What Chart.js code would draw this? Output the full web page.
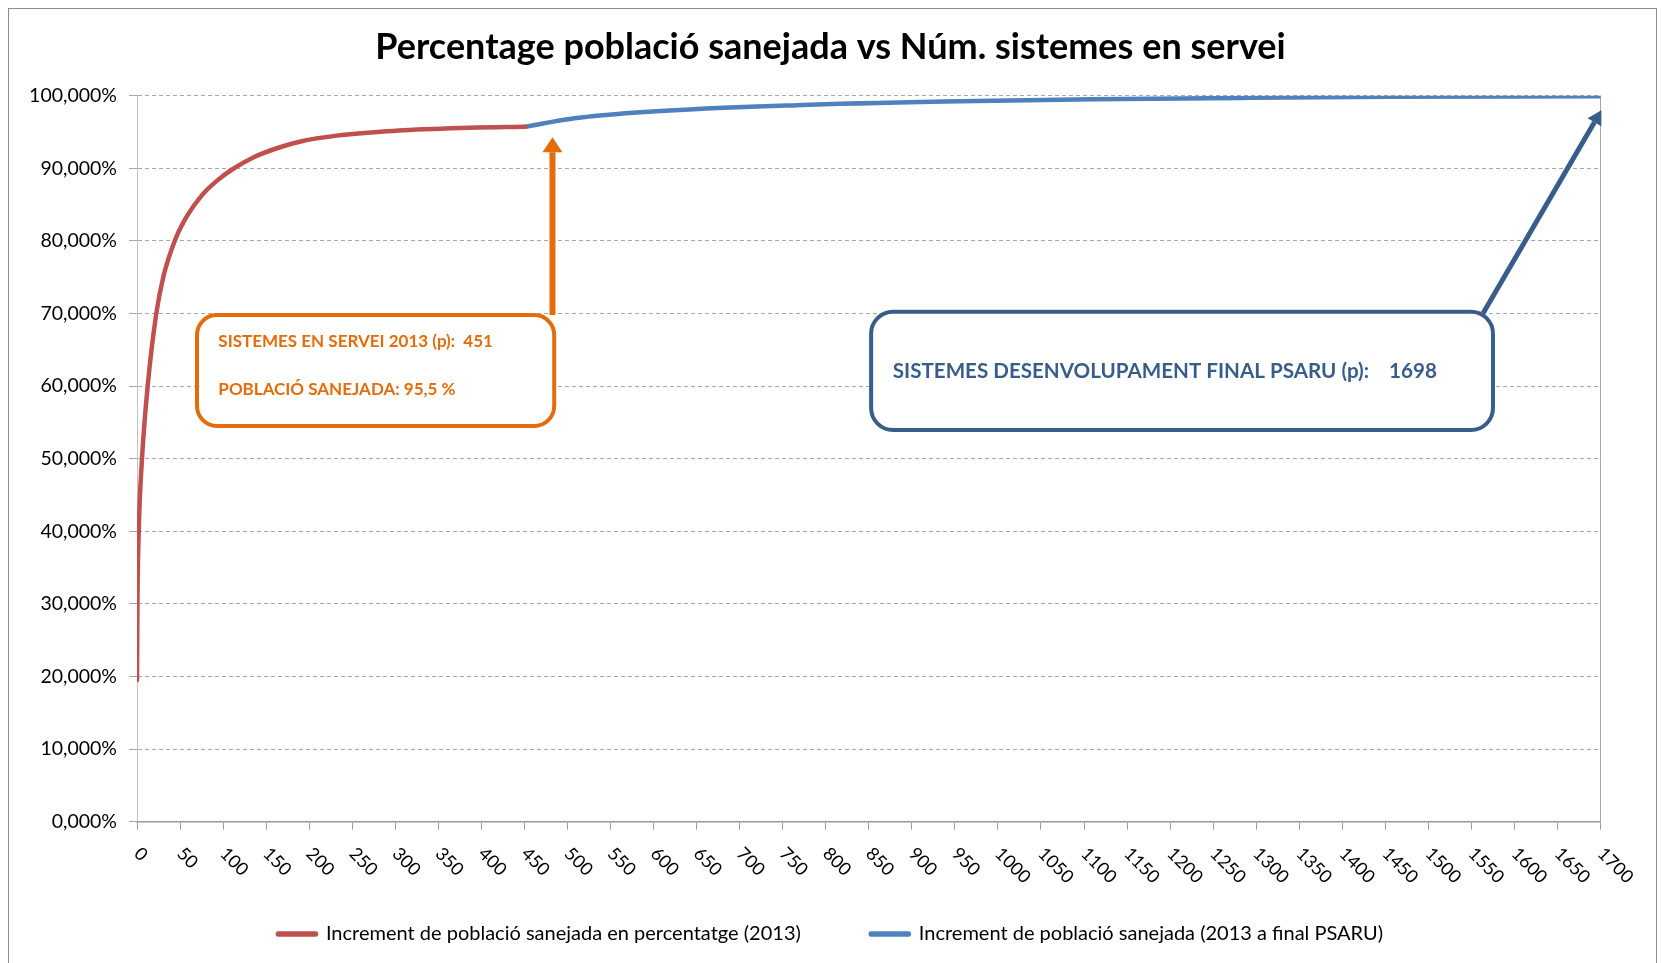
<!DOCTYPE html>
<html>
<head>
<meta charset="utf-8">
<title>Percentage població sanejada</title>
<script src="https://cdn.jsdelivr.net/npm/chart.js@4.4.1/dist/chart.umd.min.js"></script>
<style>
  html, body { margin: 0; padding: 0; background: #fff; }
</style>
</head>
<body>
<canvas id="sanejadaChart" width="1661" height="963"></canvas>
<script>
const titol = 'Percentage població sanejada vs Núm. sistemes en servei';
const seriesNoms = [
    'Increment de població sanejada en percentatge (2013)',
    'Increment de població sanejada (2013 a final PSARU)'
];

// corba 2013 (sistemes en servei -> % població sanejada)
const sistemes2013 = [0, 0.5, 2, 5.8, 12.4, 22.4, 30.9, 44.5, 58, 75.5, 93, 110, 135, 166, 190, 232, 280, 309, 387, 451];
const poblacio2013 = [19.5, 30, 40, 50, 60, 70, 75.2, 80.2, 83.4, 86.3, 88.3, 89.8, 91.5, 92.9, 93.7, 94.5, 95.0, 95.25, 95.6, 95.73];

// corba 2013 -> final PSARU
const sistemesPsaru = [451, 508, 594, 766, 938, 1110, 1282, 1454, 1698];
const poblacioPsaru = [95.73, 96.9, 97.8, 98.7, 99.2, 99.5, 99.7, 99.85, 99.92];

const xMax = 1700, xPas = 50;
const yMax = 100, yPas = 10;

const textTaronja = ['SISTEMES EN SERVEI 2013 (p):  451', 'POBLACIÓ SANEJADA: 95,5 %'];
const textBlau = 'SISTEMES DESENVOLUPAMENT FINAL PSARU (p):    1698';

const toPoints = (xs, ys) => xs.map((x, i) => ({ x: x, y: ys[i] }));

const ORANGE = '#E46C0A';
const DARKBLUE = '#385D8A';

function arrow(ctx, x1, y1, x2, y2, color, width, headLen, headHalf) {
    const a = Math.atan2(y2 - y1, x2 - x1);
    const bx = x2 - Math.cos(a) * headLen, by = y2 - Math.sin(a) * headLen;
    ctx.strokeStyle = color;
    ctx.fillStyle = color;
    ctx.lineWidth = width;
    ctx.lineCap = 'butt';
    ctx.beginPath();
    ctx.moveTo(x1, y1);
    ctx.lineTo(bx, by);
    ctx.stroke();
    ctx.beginPath();
    ctx.moveTo(x2, y2);
    ctx.lineTo(bx + Math.sin(a) * headHalf, by - Math.cos(a) * headHalf);
    ctx.lineTo(bx - Math.sin(a) * headHalf, by + Math.cos(a) * headHalf);
    ctx.closePath();
    ctx.fill();
}

const fonsIVora = {
    id: 'fonsIVora',
    beforeDraw(chart) {
        const c = chart.ctx;
        c.save();
        c.fillStyle = '#fff';
        c.fillRect(0, 0, chart.width, chart.height);
        c.strokeStyle = '#8c8c8c';
        c.lineWidth = 1;
        c.strokeRect(8.5, 8.5, 1648, 980);
        c.restore();
    }
};

// etiquetes de l'eix X girades 45 graus cap avall
const etiquetesX = {
    id: 'etiquetesX',
    afterDraw(chart) {
        const xs = chart.scales.x;
        const c = chart.ctx;
        c.save();
        c.font = '18px Lato';
        c.fillStyle = '#000';
        c.textAlign = 'left';
        c.textBaseline = 'middle';
        xs.ticks.forEach(t => {
            c.save();
            c.translate(xs.getPixelForValue(t.value), xs.top + 29);
            c.rotate(Math.PI / 4);
            c.fillText(String(t.value), 0, 0);
            c.restore();
        });
        c.restore();
    }
};

const anotacions = {
    id: 'anotacions',
    afterDatasetsDraw(chart) {
        const c = chart.ctx;
        const X = v => chart.scales.x.getPixelForValue(v);
        const Y = v => chart.scales.y.getPixelForValue(v);
        c.save();

        // caixa taronja
        arrow(c, X(482.6), Y(69.8), X(482.6), Y(94.27), ORANGE, 6, 15, 10);
        c.beginPath();
        c.roundRect(X(69.7), Y(69.8), X(484.6) - X(69.7), Y(54.5) - Y(69.8), 20);
        c.fillStyle = '#fff';
        c.fill();
        c.strokeStyle = ORANGE;
        c.lineWidth = 4;
        c.stroke();
        c.fillStyle = ORANGE;
        c.font = 'bold 17px Lato';
        c.textBaseline = 'middle';
        c.fillText(textTaronja[0], X(94.5), Y(66.2));
        c.fillText(textTaronja[1], X(94.5), Y(59.56));

        // caixa blava
        arrow(c, X(1563.5), Y(70.05), X(1701), Y(98.0), DARKBLUE, 5, 14, 8);
        c.beginPath();
        c.roundRect(X(852.7), Y(70.25), X(1575) - X(852.7), Y(53.95) - Y(70.25), 22);
        c.fillStyle = '#fff';
        c.fill();
        c.strokeStyle = DARKBLUE;
        c.lineWidth = 4;
        c.stroke();
        c.fillStyle = DARKBLUE;
        c.font = 'bold 20.6px Lato';
        c.fillText(textBlau, X(877.8), Y(62));
        c.restore();
    }
};

const ctx = document.getElementById('sanejadaChart').getContext('2d');
const sanejadaChart = new Chart(ctx, {
    type: 'line',
    data: {
        datasets: [
            {
                label: seriesNoms[0],
                data: toPoints(sistemes2013, poblacio2013),
                borderColor: '#C0504D',
                backgroundColor: '#C0504D',
                borderWidth: 4.5,
                borderCapStyle: 'round',
                borderJoinStyle: 'round',
                pointRadius: 0,
                cubicInterpolationMode: 'monotone',
                fill: false
            },
            {
                label: seriesNoms[1],
                data: toPoints(sistemesPsaru, poblacioPsaru),
                borderColor: '#4F81BD',
                backgroundColor: '#4F81BD',
                borderWidth: 4.5,
                borderCapStyle: 'round',
                borderJoinStyle: 'round',
                pointRadius: 0,
                cubicInterpolationMode: 'monotone',
                fill: false
            }
        ]
    },
    options: {
        responsive: false,
        animation: false,
        devicePixelRatio: 1,
        layout: { padding: { left: 0, right: 0, top: 0, bottom: 9 } },
        scales: {
            x: {
                type: 'linear',
                min: 0,
                max: xMax,
                ticks: { stepSize: xPas, display: false },
                grid: {
                    drawOnChartArea: true,
                    color: c => (c.tick && c.tick.value === xMax) ? '#a6a6a6' : 'rgba(0,0,0,0)',
                    tickColor: '#9a9a9a',
                    tickLength: 8
                },
                border: { color: '#9a9a9a', width: 1.5 },
                afterFit: s => { s.height = 32.3; }
            },
            y: {
                min: 0,
                max: yMax,
                ticks: {
                    stepSize: yPas,
                    padding: 12,
                    color: '#000',
                    font: { family: 'Lato', size: 19.5 },
                    callback: v => v.toFixed(3).replace('.', ',') + '%'
                },
                grid: { color: '#a6a6a6', tickColor: '#a6a6a6', tickLength: 8, tickBorderDash: [] },
                border: { color: '#c4c4c4', width: 1, dash: [4, 3] },
                afterFit: s => { s.width = 137; }
            },
            // eix buit a la dreta, només per deixar marge
            yDreta: {
                position: 'right',
                min: 0,
                max: yMax,
                ticks: { display: false },
                grid: { display: false, drawTicks: false },
                border: { display: false },
                afterFit: s => { s.width = 60.4; }
            }
        },
        plugins: {
            title: {
                display: true,
                text: titol,
                color: '#000',
                font: { family: 'Lato', size: 36, weight: 'bold' },
                padding: { top: 26.1, bottom: 26.4 }
            },
            legend: {
                position: 'bottom',
                labels: {
                    color: '#000',
                    font: { family: 'Lato', size: 20 },
                    boxWidth: 38,
                    boxHeight: 1,
                    padding: 70
                }
            },
            tooltip: { enabled: false }
        }
    },
    plugins: [fonsIVora, etiquetesX, anotacions]
});
</script>
</body>
</html>
